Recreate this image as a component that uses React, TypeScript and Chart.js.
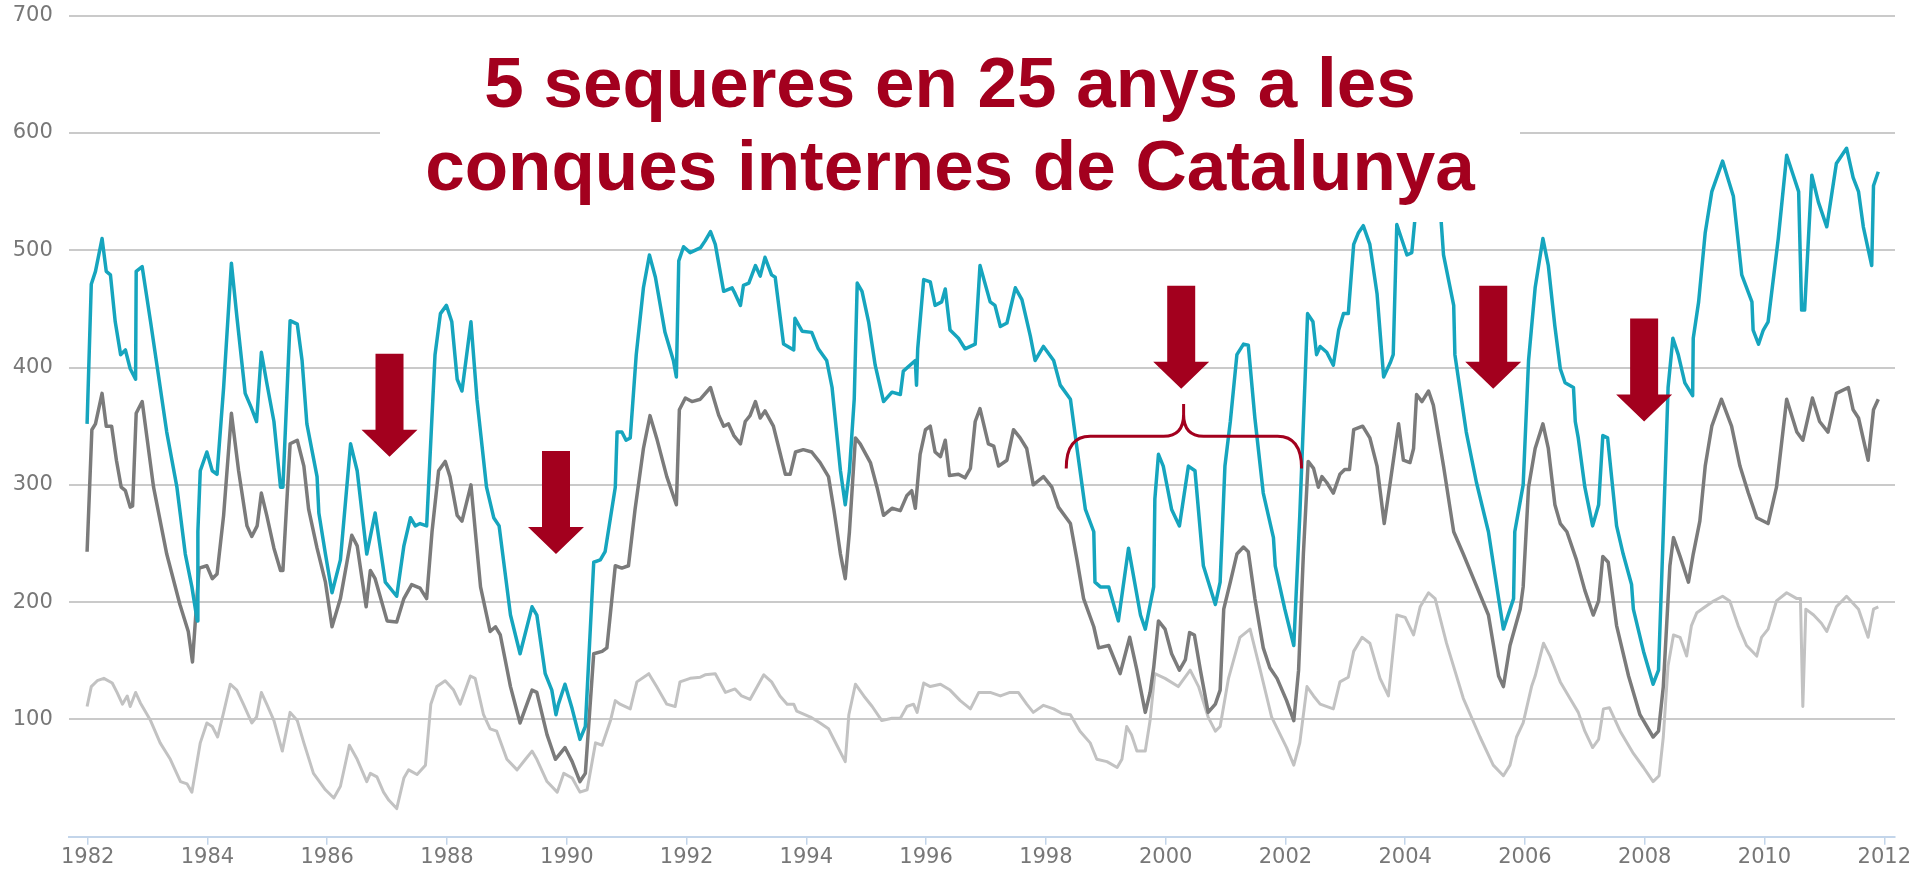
import React, { useEffect, useRef } from 'react';
import { Chart, registerables } from 'chart.js';

Chart.register(...registerables);

// ---- Data (decimal year, value) ----
const TEAL: [number, number][] = [
  [1981.99,352],[1982.06,471],[1982.13,482],[1982.24,510],[1982.31,482],[1982.38,479],[1982.46,439],[1982.55,411],[1982.63,415],[1982.71,399],[1982.80,390],[1982.81,482],[1982.91,486],[1983.05,439],[1983.16,401],[1983.32,345],[1983.49,298],[1983.63,241],[1983.74,213],[1983.83,184],[1983.84,260],[1983.88,312],[1983.99,328],[1984.08,312],[1984.16,309],[1984.27,383],[1984.40,489],[1984.49,444],[1984.63,378],[1984.73,366],[1984.82,354],[1984.90,413],[1984.99,387],[1985.11,354],[1985.22,298],[1985.26,298],[1985.38,440],[1985.50,437],[1985.58,406],[1985.66,352],[1985.83,307],[1985.86,276],[1985.97,241],[1986.08,208],[1986.22,236],[1986.39,335],[1986.50,312],[1986.66,241],[1986.80,276],[1986.97,217],[1987.16,205],[1987.28,248],[1987.39,272],[1987.47,265],[1987.55,267],[1987.66,265],[1987.80,411],[1987.89,446],[1987.99,453],[1988.08,439],[1988.17,390],[1988.25,380],[1988.40,439],[1988.50,373],[1988.66,298],[1988.78,272],[1988.87,265],[1989.06,189],[1989.22,156],[1989.42,196],[1989.50,189],[1989.64,139],[1989.75,125],[1989.82,104],[1989.86,113],[1989.97,130],[1990.09,109],[1990.22,83],[1990.31,94],[1990.45,234],[1990.56,236],[1990.64,243],[1990.81,298],[1990.84,345],[1990.92,345],[1990.99,338],[1991.06,340],[1991.16,411],[1991.28,468],[1991.38,496],[1991.48,477],[1991.64,430],[1991.78,406],[1991.83,392],[1991.87,491],[1991.95,503],[1992.06,498],[1992.23,502],[1992.31,508],[1992.40,516],[1992.48,505],[1992.62,465],[1992.76,468],[1992.81,463],[1992.90,453],[1992.95,470],[1993.04,472],[1993.15,487],[1993.23,478],[1993.31,494],[1993.42,479],[1993.48,477],[1993.62,420],[1993.79,415],[1993.81,442],[1993.93,431],[1994.09,430],[1994.20,416],[1994.34,406],[1994.43,383],[1994.57,312],[1994.65,283],[1994.72,312],[1994.80,373],[1994.85,472],[1994.93,465],[1995.04,439],[1995.15,402],[1995.29,371],[1995.43,379],[1995.57,377],[1995.62,397],[1995.82,406],[1995.84,385],[1995.86,416],[1995.96,475],[1996.07,473],[1996.15,453],[1996.26,456],[1996.32,467],[1996.40,432],[1996.54,425],[1996.65,416],[1996.82,420],[1996.90,487],[1997.07,456],[1997.15,453],[1997.24,435],[1997.35,438],[1997.49,468],[1997.60,458],[1997.74,427],[1997.82,406],[1997.96,418],[1998.13,406],[1998.24,385],[1998.41,373],[1998.52,331],[1998.66,279],[1998.80,260],[1998.82,217],[1998.91,213],[1999.05,213],[1999.21,184],[1999.38,246],[1999.58,189],[1999.66,177],[1999.80,213],[1999.82,288],[1999.88,326],[1999.96,316],[2000.10,279],[2000.23,265],[2000.38,316],[2000.49,312],[2000.63,231],[2000.83,198],[2000.91,217],[2000.99,316],[2001.08,354],[2001.19,411],[2001.30,420],[2001.38,419],[2001.49,357],[2001.63,293],[2001.80,255],[2001.83,231],[2001.99,194],[2002.14,163],[2002.24,274],[2002.33,392],[2002.37,446],[2002.46,439],[2002.52,411],[2002.58,418],[2002.69,413],[2002.80,402],[2002.89,432],[2002.97,446],[2003.05,446],[2003.14,505],[2003.22,515],[2003.30,521],[2003.41,505],[2003.53,463],[2003.64,392],[2003.75,404],[2003.80,411],[2003.86,522],[2004.03,496],[2004.11,498],[2004.16,525],[2004.30,590],[2004.50,565],[2004.60,525],[2004.64,496],[2004.81,453],[2004.83,411],[2005.02,345],[2005.19,302],[2005.39,260],[2005.56,203],[2005.64,177],[2005.81,203],[2005.83,260],[2005.97,300],[2006.06,406],[2006.17,468],[2006.30,510],[2006.39,487],[2006.50,435],[2006.59,399],[2006.67,387],[2006.81,383],[2006.84,354],[2006.89,340],[2007.00,298],[2007.13,265],[2007.23,283],[2007.30,342],[2007.38,340],[2007.53,265],[2007.64,241],[2007.78,215],[2007.81,194],[2007.98,158],[2008.14,130],[2008.23,142],[2008.31,260],[2008.39,383],[2008.47,425],[2008.56,411],[2008.67,387],[2008.80,376],[2008.81,425],[2008.90,456],[2009.01,515],[2009.12,550],[2009.30,576],[2009.48,546],[2009.62,479],[2009.79,456],[2009.81,432],[2009.90,420],[2009.98,432],[2010.06,439],[2010.23,510],[2010.37,581],[2010.48,564],[2010.57,550],[2010.62,449],[2010.67,449],[2010.79,564],[2010.90,541],[2011.04,520],[2011.20,574],[2011.37,587],[2011.48,562],[2011.57,550],[2011.65,520],[2011.79,487],[2011.82,555],[2011.90,567]
];

const DARK: [number, number][] = [
  [1981.99,243],[1982.07,347],[1982.13,352],[1982.24,378],[1982.31,350],[1982.40,350],[1982.48,321],[1982.56,298],[1982.63,295],[1982.71,281],[1982.75,282],[1982.81,361],[1982.91,371],[1983.10,298],[1983.32,241],[1983.54,198],[1983.68,175],[1983.75,149],[1983.86,229],[1983.99,231],[1984.08,220],[1984.16,224],[1984.27,274],[1984.40,361],[1984.52,312],[1984.66,265],[1984.74,256],[1984.83,265],[1984.90,293],[1984.99,274],[1985.11,246],[1985.22,227],[1985.26,227],[1985.38,335],[1985.50,338],[1985.61,316],[1985.69,279],[1985.83,246],[1985.97,217],[1986.08,179],[1986.22,203],[1986.41,257],[1986.50,248],[1986.65,196],[1986.72,227],[1986.80,220],[1987.00,184],[1987.16,183],[1987.28,203],[1987.41,215],[1987.55,212],[1987.66,203],[1987.75,260],[1987.86,312],[1987.97,320],[1988.05,307],[1988.17,274],[1988.25,269],[1988.40,300],[1988.56,213],[1988.72,175],[1988.81,179],[1988.89,172],[1989.06,128],[1989.22,97],[1989.42,125],[1989.50,123],[1989.67,87],[1989.81,66],[1989.97,76],[1990.09,64],[1990.22,47],[1990.31,54],[1990.45,156],[1990.59,158],[1990.67,161],[1990.81,231],[1990.92,229],[1991.03,231],[1991.14,279],[1991.28,331],[1991.39,359],[1991.50,340],[1991.67,307],[1991.83,283],[1991.88,364],[1991.98,374],[1992.09,371],[1992.23,373],[1992.40,383],[1992.54,359],[1992.62,350],[1992.70,352],[1992.79,342],[1992.90,335],[1992.98,354],[1993.06,359],[1993.15,371],[1993.23,357],[1993.31,363],[1993.45,350],[1993.65,309],[1993.73,309],[1993.82,328],[1993.95,330],[1994.09,328],[1994.23,319],[1994.37,307],[1994.46,279],[1994.57,241],[1994.65,220],[1994.72,260],[1994.82,340],[1994.90,335],[1995.07,319],[1995.18,298],[1995.29,274],[1995.43,280],[1995.57,278],[1995.68,291],[1995.76,295],[1995.82,280],[1995.90,326],[1995.99,347],[1996.07,350],[1996.15,328],[1996.24,324],[1996.32,338],[1996.39,308],[1996.54,309],[1996.65,306],[1996.74,314],[1996.82,354],[1996.90,365],[1997.04,335],[1997.13,333],[1997.21,316],[1997.35,321],[1997.46,347],[1997.57,340],[1997.68,331],[1997.79,300],[1997.96,307],[1998.10,298],[1998.21,281],[1998.41,267],[1998.52,236],[1998.63,203],[1998.80,179],[1998.88,161],[1999.05,163],[1999.24,139],[1999.40,170],[1999.52,142],[1999.66,106],[1999.74,123],[1999.80,144],[1999.88,184],[1999.99,177],[2000.10,156],[2000.23,142],[2000.33,151],[2000.40,174],[2000.48,172],[2000.58,142],[2000.71,106],[2000.83,113],[2000.91,125],[2000.97,194],[2001.08,217],[2001.19,241],[2001.30,247],[2001.38,243],[2001.49,203],[2001.63,161],[2001.74,144],[2001.86,135],[2002.02,116],[2002.14,99],[2002.22,142],[2002.30,241],[2002.38,320],[2002.47,314],[2002.55,298],[2002.61,307],[2002.69,302],[2002.80,293],[2002.91,309],[2002.99,313],[2003.07,313],[2003.14,347],[2003.29,350],[2003.41,340],[2003.53,316],[2003.65,267],[2003.75,302],[2003.89,352],[2003.97,321],[2004.08,319],[2004.14,331],[2004.19,377],[2004.28,371],[2004.39,380],[2004.47,368],[2004.64,316],[2004.81,260],[2004.97,241],[2005.14,220],[2005.39,189],[2005.56,137],[2005.64,128],[2005.75,163],[2005.92,194],[2005.97,213],[2006.06,298],[2006.17,331],[2006.30,352],[2006.39,331],[2006.50,283],[2006.59,267],[2006.70,260],[2006.86,236],[2007.00,210],[2007.14,189],[2007.23,201],[2007.30,239],[2007.39,234],[2007.53,180],[2007.73,137],[2007.92,104],[2008.14,85],[2008.23,90],[2008.31,128],[2008.42,231],[2008.48,255],[2008.59,239],[2008.73,217],[2008.81,241],[2008.92,269],[2009.01,316],[2009.12,350],[2009.28,373],[2009.45,350],[2009.59,316],[2009.73,293],[2009.87,272],[2010.06,267],[2010.20,298],[2010.37,373],[2010.54,345],[2010.64,338],[2010.80,374],[2010.92,354],[2011.06,345],[2011.20,378],[2011.40,383],[2011.48,364],[2011.57,357],[2011.73,321],[2011.82,364],[2011.90,373]
];

const LIGHT: [number, number][] = [
  [1981.99,111],[1982.06,128],[1982.16,133],[1982.27,135],[1982.41,131],[1982.49,123],[1982.58,113],[1982.66,120],[1982.71,111],[1982.80,123],[1982.88,114],[1983.05,99],[1983.21,80],[1983.38,66],[1983.55,47],[1983.66,45],[1983.74,38],[1983.88,80],[1983.99,97],[1984.08,94],[1984.17,85],[1984.27,106],[1984.38,130],[1984.49,125],[1984.60,113],[1984.74,97],[1984.82,102],[1984.90,123],[1984.99,113],[1985.11,99],[1985.25,73],[1985.38,106],[1985.50,99],[1985.61,80],[1985.77,54],[1985.97,40],[1986.11,33],[1986.22,43],[1986.37,78],[1986.50,66],[1986.66,47],[1986.72,54],[1986.83,51],[1986.94,38],[1987.03,31],[1987.16,24],[1987.28,50],[1987.36,57],[1987.50,53],[1987.64,61],[1987.73,113],[1987.83,128],[1987.97,133],[1988.11,125],[1988.22,113],[1988.39,137],[1988.47,135],[1988.61,104],[1988.72,92],[1988.83,90],[1989.00,66],[1989.17,57],[1989.31,66],[1989.42,73],[1989.50,66],[1989.67,47],[1989.84,38],[1989.95,54],[1990.09,50],[1990.22,38],[1990.34,40],[1990.48,80],[1990.59,78],[1990.73,99],[1990.81,116],[1990.89,113],[1991.06,109],[1991.17,132],[1991.37,139],[1991.50,128],[1991.67,113],[1991.81,111],[1991.89,132],[1992.06,135],[1992.23,136],[1992.31,138],[1992.48,139],[1992.65,123],[1992.81,126],[1992.92,120],[1993.06,117],[1993.29,138],[1993.42,132],[1993.56,120],[1993.68,113],[1993.79,113],[1993.84,107],[1994.07,102],[1994.23,97],[1994.37,92],[1994.51,78],[1994.65,64],[1994.71,104],[1994.82,130],[1994.96,120],[1995.10,111],[1995.26,99],[1995.43,101],[1995.57,101],[1995.68,111],[1995.79,113],[1995.85,106],[1995.96,131],[1996.07,128],[1996.24,130],[1996.40,125],[1996.57,116],[1996.74,109],[1996.88,123],[1997.07,123],[1997.24,120],[1997.40,123],[1997.54,123],[1997.68,113],[1997.79,106],[1997.96,112],[1998.13,109],[1998.27,105],[1998.41,104],[1998.57,90],[1998.74,80],[1998.85,66],[1999.02,64],[1999.19,59],[1999.27,66],[1999.35,94],[1999.43,87],[1999.52,73],[1999.66,73],[1999.74,99],[1999.82,139],[1999.99,135],[2000.21,128],[2000.41,142],[2000.55,128],[2000.71,102],[2000.83,90],[2000.91,94],[2001.05,135],[2001.24,170],[2001.41,177],[2001.58,142],[2001.77,102],[2002.02,76],[2002.14,61],[2002.24,80],[2002.36,128],[2002.47,120],[2002.58,113],[2002.80,109],[2002.91,132],[2003.05,136],[2003.14,158],[2003.28,170],[2003.41,165],[2003.58,135],[2003.72,120],[2003.86,189],[2004.00,187],[2004.14,172],[2004.25,196],[2004.39,208],[2004.50,203],[2004.69,165],[2004.97,118],[2005.25,85],[2005.47,61],[2005.64,52],[2005.75,61],[2005.86,85],[2005.97,97],[2006.11,128],[2006.17,137],[2006.31,165],[2006.42,154],[2006.59,132],[2006.75,118],[2006.89,106],[2007.00,90],[2007.13,76],[2007.23,83],[2007.31,109],[2007.41,110],[2007.59,90],[2007.81,71],[2007.98,59],[2008.14,47],[2008.24,52],[2008.31,85],[2008.39,146],[2008.48,172],[2008.59,170],[2008.70,154],[2008.78,180],[2008.87,191],[2009.01,196],[2009.15,201],[2009.30,205],[2009.42,201],[2009.56,180],[2009.70,163],[2009.87,154],[2009.95,170],[2010.06,177],[2010.20,201],[2010.37,208],[2010.54,203],[2010.60,203],[2010.64,111],[2010.69,194],[2010.82,189],[2010.95,182],[2011.04,175],[2011.20,196],[2011.37,205],[2011.57,194],[2011.73,170],[2011.82,194],[2011.90,196]
];

const X_TICK_YEARS = [1982, 1984, 1986, 1988, 1990, 1992, 1994, 1996, 1998, 2000, 2002, 2004, 2006, 2008, 2010, 2012];
const Y_TICK_VALUES = [100, 200, 300, 400, 500, 600, 700];
const TITLE_LINES = ['5 sequeres en 25 anys a les', 'conques internes de Catalunya'];

// annotations: [year of arrow, value at arrow tip]
const ARROWS: [number, number][] = [
  [1987.04, 324], [1989.82, 241], [2000.26, 382], [2005.47, 382], [2007.99, 354]
];
// brace: [left year, centre year, right year], [end value, bar value, tip value]
const BRACE_YEARS = [1998.34, 2000.3, 2002.27];
const BRACE_LEVELS = [314, 341.5, 369];

const RED = '#a3001e';
const TEAL_COLOR = '#16a5be';
const DARK_COLOR = '#7b7b7b';
const LIGHT_COLOR = '#c2c2c2';
const AXIS_FONT = { family: '"DejaVu Sans", Verdana, sans-serif', size: 21 };

const annotPlugin = {
  id: 'annot',
  afterDatasetsDraw(chart: any) {
    const { ctx } = chart;
    const xs = chart.scales.x;
    const ys = chart.scales.y;
    ctx.save();
    ctx.fillStyle = RED;
    ARROWS.forEach(([yr, tip]) => {
      const cx = xs.getPixelForValue(yr);
      const ty = ys.getPixelForValue(tip);
      ctx.beginPath();
      ctx.moveTo(cx - 14, ty - 103);
      ctx.lineTo(cx + 14, ty - 103);
      ctx.lineTo(cx + 14, ty - 27);
      ctx.lineTo(cx + 28, ty - 27);
      ctx.lineTo(cx, ty);
      ctx.lineTo(cx - 28, ty - 27);
      ctx.lineTo(cx - 14, ty - 27);
      ctx.closePath();
      ctx.fill();
    });
    const xl = xs.getPixelForValue(BRACE_YEARS[0]);
    const xc = xs.getPixelForValue(BRACE_YEARS[1]);
    const xr = xs.getPixelForValue(BRACE_YEARS[2]);
    const ye = ys.getPixelForValue(BRACE_LEVELS[0]);
    const yb = ys.getPixelForValue(BRACE_LEVELS[1]);
    const yt = ys.getPixelForValue(BRACE_LEVELS[2]);
    ctx.strokeStyle = RED;
    ctx.lineWidth = 3;
    ctx.beginPath();
    ctx.moveTo(xl, ye);
    ctx.quadraticCurveTo(xl, yb, xl + 24, yb);
    ctx.lineTo(xc - 20, yb);
    ctx.quadraticCurveTo(xc, yb, xc, yb - 22);
    ctx.lineTo(xc, yt);
    ctx.moveTo(xc, yb - 22);
    ctx.quadraticCurveTo(xc, yb, xc + 20, yb);
    ctx.lineTo(xr - 24, yb);
    ctx.quadraticCurveTo(xr, yb, xr, ye);
    ctx.stroke();
    ctx.restore();
  },
};

const toPts = (arr: [number, number][]) => arr.map(([x, y]) => ({ x, y }));

export default function App() {
  const ref = useRef<HTMLCanvasElement>(null);
  useEffect(() => {
    if (!ref.current) return;
    const chart = new Chart(ref.current, {
      type: 'line',
      data: {
        datasets: [
          { data: toPts(TEAL), borderColor: TEAL_COLOR, borderWidth: 3.5, pointRadius: 0, tension: 0, borderJoinStyle: 'round' },
          { data: toPts(DARK), borderColor: DARK_COLOR, borderWidth: 3.5, pointRadius: 0, tension: 0, borderJoinStyle: 'round' },
          { data: toPts(LIGHT), borderColor: LIGHT_COLOR, borderWidth: 3, pointRadius: 0, tension: 0, borderJoinStyle: 'round' },
        ] as any,
      },
      options: {
        responsive: false,
        animation: false,
        devicePixelRatio: 1,
        layout: { autoPadding: false, padding: { left: 12.7, right: 33, top: 15.7, bottom: 0 } },
        plugins: { legend: { display: false }, tooltip: { enabled: false }, title: { display: false } },
        scales: {
          x: {
            type: 'linear',
            min: 1981.688,
            max: 2012.179,
            afterFit: (s: any) => { s.height = 32.3; },
            afterBuildTicks: (s: any) => { s.ticks = X_TICK_YEARS.map((v) => ({ value: v })); },
            grid: { drawOnChartArea: false, drawTicks: true, tickLength: 8, color: '#c3d5ea', lineWidth: 1.5 },
            border: { display: true, color: '#c3d5ea', width: 2 },
            ticks: { font: AXIS_FONT, color: '#777777', padding: 0, maxRotation: 0, autoSkip: false, callback: (v: any) => String(v) },
          },
          y: {
            type: 'linear',
            min: 0,
            max: 700,
            afterFit: (s: any) => { s.width = 56.3; },
            afterBuildTicks: (s: any) => { s.ticks = Y_TICK_VALUES.map((v) => ({ value: v })); },
            grid: { drawTicks: false, color: '#cacaca', lineWidth: 2 },
            border: { display: false },
            ticks: { font: AXIS_FONT, color: '#777777', padding: 0, crossAlign: 'far', callback: (v: any) => String(v) },
          },
        },
      } as any,
      plugins: [annotPlugin],
    });
    return () => chart.destroy();
  }, []);

  return (
    <div style={{ position: 'absolute', left: 0, top: 0, width: 1928, height: 869, background: '#fff', overflow: 'hidden' }}>
      <canvas ref={ref} width={1928} height={869} style={{ position: 'absolute', left: 0, top: 0, width: 1928, height: 869 }} />
      <div
        style={{
          position: 'absolute', left: 380, top: 28, width: 1140, height: 194, boxSizing: 'border-box', paddingTop: 12.6,
          background: '#fff', color: RED, fontFamily: '"Liberation Sans", Arial, sans-serif', fontWeight: 'bold',
          fontSize: 71, lineHeight: '83px', textAlign: 'center', whiteSpace: 'nowrap',
        }}
      >
        {TITLE_LINES.map((l) => <div key={l}>{l}</div>)}
      </div>
    </div>
  );
}
